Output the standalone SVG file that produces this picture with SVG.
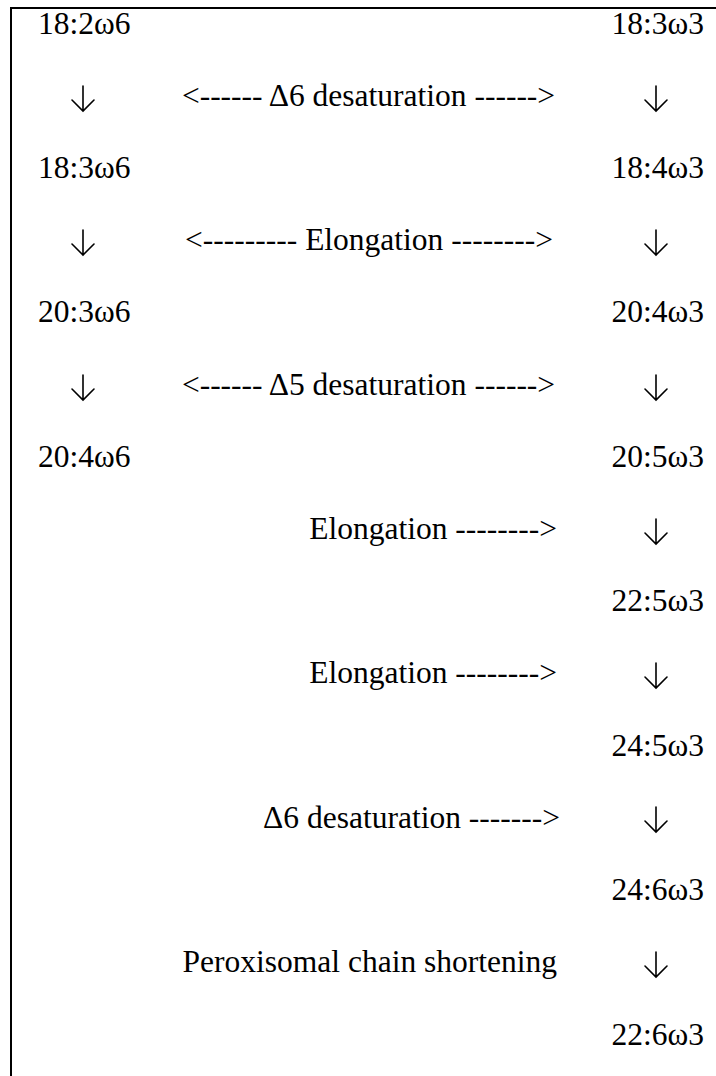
<svg xmlns="http://www.w3.org/2000/svg" width="716" height="1076" viewBox="0 0 716 1076">
<style>
text{font-family:"Liberation Serif","Times New Roman",serif;font-size:31.5px;fill:#000}
.m{text-anchor:middle}
.e{text-anchor:end}
.b{stroke:#000;stroke-width:2;fill:none}
.a{stroke:#000;stroke-width:1.6;fill:none;stroke-linecap:round;stroke-linejoin:miter}
</style>
<defs>
<path id="dn" d="M0,-25 V0 M-11,-11 L0,0 L11,-11"/>
</defs>
<rect width="716" height="1076" fill="#fff"/>
<g id="frame">
<line class="b" x1="11" y1="8" x2="716" y2="8"/>
<line class="b" x1="11" y1="7" x2="11" y2="1076"/>
</g>
<g id="n-18-2w6"><text x="38" y="33.5">18:2ω6</text></g>
<g id="n-18-3w6"><text x="38" y="178">18:3ω6</text></g>
<g id="n-20-3w6"><text x="38" y="322">20:3ω6</text></g>
<g id="n-20-4w6"><text x="38" y="467">20:4ω6</text></g>
<g id="n-18-3w3"><text class="e" x="704" y="33.5">18:3ω3</text></g>
<g id="n-18-4w3"><text class="e" x="704" y="178">18:4ω3</text></g>
<g id="n-20-4w3"><text class="e" x="704" y="322">20:4ω3</text></g>
<g id="n-20-5w3"><text class="e" x="704" y="467">20:5ω3</text></g>
<g id="n-22-5w3"><text class="e" x="704" y="611">22:5ω3</text></g>
<g id="n-24-5w3"><text class="e" x="704" y="755.5">24:5ω3</text></g>
<g id="n-24-6w3"><text class="e" x="704" y="900">24:6ω3</text></g>
<g id="n-22-6w3"><text class="e" x="704" y="1044.5">22:6ω3</text></g>
<g id="connectors" class="a">
<use href="#dn" x="83" y="111"/>
<use href="#dn" x="83" y="255"/>
<use href="#dn" x="83" y="400"/>
<use href="#dn" x="656" y="111"/>
<use href="#dn" x="656" y="255"/>
<use href="#dn" x="656" y="400"/>
<use href="#dn" x="656" y="544"/>
<use href="#dn" x="656" y="688"/>
<use href="#dn" x="656" y="832"/>
<use href="#dn" x="656" y="977"/>
</g>
<g id="labels">
<text class="m" x="368.5" y="105.7">&lt;------ Δ6 desaturation ------&gt;</text>
<text class="m" x="369" y="250">&lt;--------- Elongation --------&gt;</text>
<text class="m" x="368.5" y="394.5">&lt;------ Δ5 desaturation ------&gt;</text>
<text class="e" x="557" y="539">Elongation --------&gt;</text>
<text class="e" x="557" y="683.3">Elongation --------&gt;</text>
<text class="e" x="560" y="827.7">Δ6 desaturation -------&gt;</text>
<text class="e" x="557" y="972">Peroxisomal chain shortening</text>
</g>
</svg>
